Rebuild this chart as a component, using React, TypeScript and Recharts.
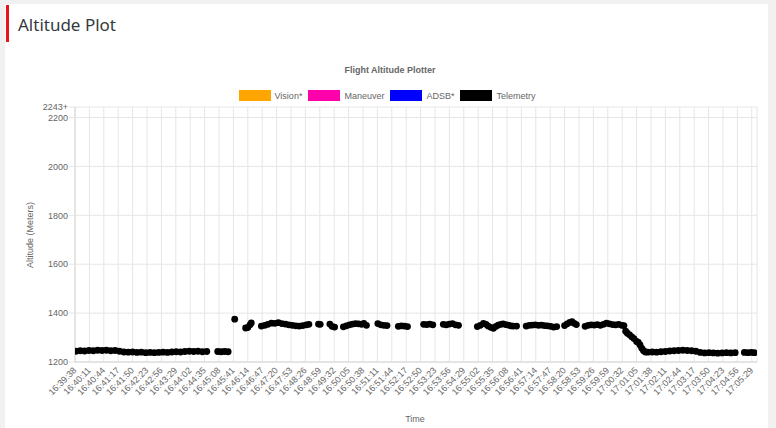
import React from 'react';
import { ScatterChart, Scatter, XAxis, YAxis, CartesianGrid, Legend } from 'recharts';

const colors = {
    vision: '#ffa500',
    maneuver: '#ff00aa',
    adsb: '#0000ff',
    telemetry: '#000000',
    grid: '#e6e6e6',
    axis: '#d6d6d6',
    text: '#666666'
};

const font = "'Liberation Sans', Arial, Helvetica, sans-serif";

const seriesNames = ['Vision*', 'Maneuver', 'ADSB*', 'Telemetry'];

const tickLabels = [
    '16:39:38', '16:40:11', '16:40:44', '16:41:17', '16:41:50', '16:42:23', '16:42:56', '16:43:29',
    '16:44:02', '16:44:35', '16:45:08', '16:45:41', '16:46:14', '16:46:47', '16:47:20', '16:47:53',
    '16:48:26', '16:48:59', '16:49:32', '16:50:05', '16:50:38', '16:51:11', '16:51:44', '16:52:17',
    '16:52:50', '16:53:23', '16:53:56', '16:54:29', '16:55:02', '16:55:35', '16:56:08', '16:56:41',
    '16:57:14', '16:57:47', '16:58:20', '16:58:53', '16:59:26', '16:59:59', '17:00:32', '17:01:05',
    '17:01:38', '17:02:11', '17:02:44', '17:03:17', '17:03:50', '17:04:23', '17:04:56', '17:05:29'
];
const timeRange = ['16:39:38', '17:05:41'];

const altTicks = [1200, 1400, 1600, 1800, 2000, 2200, 2243];

// only telemetry has points in this plot
const visionData: [string, number][] = [];
const maneuverData: [string, number][] = [];
const adsbData: [string, number][] = [];

const telemetryData: [string, number][] = [
    ['16:39:40', 1244], ['16:39:50', 1246], ['16:40:00', 1245], ['16:40:10', 1247], ['16:40:20', 1246],
    ['16:40:30', 1248], ['16:40:40', 1247], ['16:40:50', 1248], ['16:41:00', 1246], ['16:41:10', 1247],
    ['16:41:20', 1244], ['16:41:30', 1241], ['16:41:40', 1240], ['16:41:50', 1241], ['16:42:00', 1239],
    ['16:42:10', 1240], ['16:42:20', 1238], ['16:42:30', 1239], ['16:42:40', 1238], ['16:42:50', 1239],
    ['16:43:00', 1240], ['16:43:10', 1239], ['16:43:20', 1241], ['16:43:30', 1242], ['16:43:40', 1241],
    ['16:43:50', 1243], ['16:44:00', 1244], ['16:44:10', 1243], ['16:44:20', 1244], ['16:44:30', 1242],
    ['16:44:40', 1243],
    ['16:45:05', 1243], ['16:45:13', 1242], ['16:45:21', 1243], ['16:45:29', 1242],
    ['16:45:44', 1375],
    ['16:46:09', 1339], ['16:46:14', 1341], ['16:46:19', 1352], ['16:46:22', 1360],
    ['16:46:45', 1347], ['16:46:53', 1350], ['16:47:00', 1354], ['16:47:08', 1359], ['16:47:16', 1358],
    ['16:47:24', 1361], ['16:47:32', 1357], ['16:47:40', 1355], ['16:47:48', 1352], ['16:47:56', 1350],
    ['16:48:04', 1348], ['16:48:12', 1347], ['16:48:20', 1349], ['16:48:28', 1352], ['16:48:34', 1354],
    ['16:48:56', 1355], ['16:49:00', 1354],
    ['16:49:22', 1355], ['16:49:27', 1346], ['16:49:33', 1343],
    ['16:49:53', 1344], ['16:50:00', 1348], ['16:50:07', 1352], ['16:50:14', 1355], ['16:50:21', 1357],
    ['16:50:28', 1356], ['16:50:35', 1354], ['16:50:40', 1358], ['16:50:46', 1350],
    ['16:51:12', 1357], ['16:51:19', 1352], ['16:51:26', 1350], ['16:51:33', 1349],
    ['16:51:59', 1346], ['16:52:06', 1348], ['16:52:13', 1347], ['16:52:20', 1345],
    ['16:52:57', 1354], ['16:53:04', 1353], ['16:53:11', 1355], ['16:53:18', 1352],
    ['16:53:42', 1354], ['16:53:49', 1352], ['16:53:56', 1355], ['16:54:03', 1357], ['16:54:10', 1352],
    ['16:54:17', 1350],
    ['16:55:00', 1345], ['16:55:07', 1350], ['16:55:14', 1358], ['16:55:20', 1354], ['16:55:25', 1347],
    ['16:55:31', 1342], ['16:55:37', 1338], ['16:55:43', 1346], ['16:55:48', 1351], ['16:55:54', 1354],
    ['16:55:59', 1356], ['16:56:05', 1353], ['16:56:11', 1351], ['16:56:17', 1348], ['16:56:22', 1347],
    ['16:56:30', 1347],
    ['16:56:52', 1347], ['16:56:59', 1350], ['16:57:06', 1351], ['16:57:13', 1352], ['16:57:20', 1350],
    ['16:57:27', 1351], ['16:57:34', 1349], ['16:57:41', 1348], ['16:57:48', 1346], ['16:57:55', 1343],
    ['16:58:02', 1345],
    ['16:58:20', 1349], ['16:58:26', 1356], ['16:58:32', 1362], ['16:58:37', 1365], ['16:58:42', 1358],
    ['16:58:47', 1353],
    ['16:59:07', 1346], ['16:59:14', 1350], ['16:59:21', 1352], ['16:59:28', 1351], ['16:59:35', 1353],
    ['16:59:42', 1350], ['16:59:49', 1354], ['16:59:56', 1359], ['17:00:03', 1356], ['17:00:10', 1353],
    ['17:00:17', 1352], ['17:00:24', 1354], ['17:00:31', 1350], ['17:00:36', 1349],
    ['17:00:40', 1326], ['17:00:44', 1318], ['17:00:49', 1311], ['17:00:54', 1303], ['17:00:59', 1296],
    ['17:01:05', 1284], ['17:01:09', 1280], ['17:01:13', 1270], ['17:01:17', 1256], ['17:01:21', 1246],
    ['17:01:25', 1241],
    ['17:01:31', 1240], ['17:01:41', 1241], ['17:01:51', 1240], ['17:02:01', 1242], ['17:02:11', 1243],
    ['17:02:21', 1245], ['17:02:31', 1246], ['17:02:41', 1247], ['17:02:51', 1248], ['17:03:01', 1247],
    ['17:03:11', 1246], ['17:03:21', 1244], ['17:03:31', 1239], ['17:03:41', 1237], ['17:03:51', 1238],
    ['17:04:01', 1237], ['17:04:11', 1236], ['17:04:21', 1237], ['17:04:31', 1238], ['17:04:41', 1237],
    ['17:04:51', 1238],
    ['17:05:12', 1239], ['17:05:20', 1238], ['17:05:28', 1239], ['17:05:35', 1238]
];

const toSec = (s: string) => {
    const [h, m, sec] = s.split(':').map(Number);
    return h * 3600 + m * 60 + sec;
};
const pad = (n: number) => String(n).padStart(2, '0');
const fmtTime = (v: number) => `${pad(Math.floor(v / 3600))}:${pad(Math.floor((v % 3600) / 60))}:${pad(v % 60)}`;
const toPoints = (rows: [string, number][]) => rows.map(([time, alt]) => ({ t: toSec(time), alt }));

const XTick = ({ x, y, payload }: any) => (
    <text
        x={x + 2}
        y={y + 9}
        transform={`rotate(-45 ${x + 2} ${y + 9})`}
        textAnchor="end"
        fontSize={9}
        fontFamily={font}
        fill={colors.text}
    >
        {fmtTime(payload.value)}
    </text>
);

const dot = (color: string) => (props: any) => (
    <circle cx={props.cx} cy={props.cy} r={3.4} fill={color} />
);

const LegendBoxes = ({ payload }: any) => {
    const items = [...(payload || [])].sort((a: any, b: any) => seriesNames.indexOf(a.value) - seriesNames.indexOf(b.value));
    return (
        <div style={{ display: 'flex', justifyContent: 'center', alignItems: 'center', fontFamily: font, fontSize: 9, color: colors.text }}>
            {items.map((entry: any) => (
                <div key={entry.value} style={{ display: 'flex', alignItems: 'center', marginRight: 6 }}>
                    <span style={{ width: 32, height: 11, background: entry.color, display: 'inline-block', marginRight: 4 }} />
                    <span>{entry.value}</span>
                </div>
            ))}
        </div>
    );
};

export default function App() {
    return (
        <div style={{ position: 'absolute', left: 0, top: 0, width: 776, height: 428, background: '#f1f1f1', overflow: 'hidden', fontFamily: font }}>
            <div style={{ position: 'absolute', left: 5, top: 4, width: 763, height: 424, background: '#fff' }} />
            <div style={{ position: 'absolute', left: 6, top: 5, width: 3, height: 37, background: '#e8141b' }} />
            <div style={{ position: 'absolute', left: 18, top: 15, fontFamily: "'Noto Sans', sans-serif", fontSize: 17, lineHeight: '20px', color: '#343a40' }}>
                Altitude Plot
            </div>
            <div style={{ position: 'absolute', left: 0, top: 0 }}>
                <ScatterChart width={776} height={428} margin={{ top: 107, right: 19, bottom: 36, left: 30 }}>
                    <CartesianGrid stroke={colors.grid} />
                    <XAxis
                        type="number"
                        dataKey="t"
                        domain={timeRange.map(toSec)}
                        ticks={tickLabels.map(toSec)}
                        interval={0}
                        tick={<XTick />}
                        tickLine={false}
                        tickSize={0}
                        tickMargin={0}
                        height={30}
                        axisLine={{ stroke: colors.axis }}
                        allowDataOverflow
                    />
                    <YAxis
                        type="number"
                        dataKey="alt"
                        domain={[1200, 2243]}
                        ticks={altTicks}
                        interval={0}
                        width={45}
                        tickFormatter={(v: number) => (v === 2243 ? '2243+' : String(v))}
                        tick={{ fontSize: 9, fill: colors.text, fontFamily: font }}
                        tickLine={{ stroke: colors.grid }}
                        tickSize={6}
                        tickMargin={1}
                        axisLine={{ stroke: colors.axis }}
                        allowDataOverflow
                    />
                    <Legend verticalAlign="middle" align="center" wrapperStyle={{ top: 90, left: 0, width: 780 }} content={<LegendBoxes />} />
                    <Scatter name={seriesNames[0]} data={toPoints(visionData)} fill={colors.vision} shape={dot(colors.vision)} isAnimationActive={false} />
                    <Scatter name={seriesNames[1]} data={toPoints(maneuverData)} fill={colors.maneuver} shape={dot(colors.maneuver)} isAnimationActive={false} />
                    <Scatter name={seriesNames[2]} data={toPoints(adsbData)} fill={colors.adsb} shape={dot(colors.adsb)} isAnimationActive={false} />
                    <Scatter name={seriesNames[3]} data={toPoints(telemetryData)} fill={colors.telemetry} shape={dot(colors.telemetry)} isAnimationActive={false} />
                </ScatterChart>
            </div>
            <div style={{ position: 'absolute', left: 390, top: 65, transform: 'translateX(-50%)', fontSize: 9, lineHeight: '11px', fontWeight: 'bold', color: colors.text, whiteSpace: 'nowrap' }}>
                Flight Altitude Plotter
            </div>
            <div style={{ position: 'absolute', left: 30, top: 235, transform: 'translate(-50%, -50%) rotate(-90deg)', fontSize: 9, color: colors.text, whiteSpace: 'nowrap' }}>
                Altitude (Meters)
            </div>
            <div style={{ position: 'absolute', left: 415, top: 414, transform: 'translateX(-50%)', fontSize: 9, lineHeight: '11px', color: colors.text }}>
                Time
            </div>
        </div>
    );
}
